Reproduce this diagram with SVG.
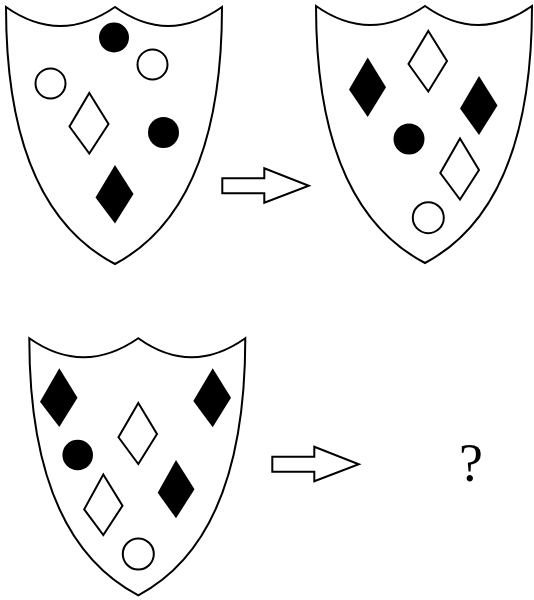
<svg xmlns="http://www.w3.org/2000/svg" width="534" height="600" viewBox="0 0 534 600">
<style>
.sh{fill:#fff;stroke:#000;stroke-width:2;stroke-linejoin:miter}
.o{fill:#fff;stroke:#000;stroke-width:2}
.f{fill:#000}
.ar{fill:#fff;stroke:#000;stroke-width:2}
.q{font-family:"Liberation Serif",serif;font-size:54px;fill:#000}
</style>
<defs>
<path id="shield" d="M0,0 Q54,38 109,0 Q162,38 216,0 Q216,200 109,257 Q0,200 0,0 Z"/>
<path id="arrow" d="M0,-7.5 H42 V-17.5 L86.5,0 L42,17 V7.5 H0 Z"/>
</defs>
<g id="shield1">
<use href="#shield" class="sh" transform="translate(6,7)"/>
<circle class="f" cx="114" cy="37.5" r="15"/>
<circle class="o" cx="152.5" cy="64.5" r="15"/>
<circle class="o" cx="50.5" cy="83.5" r="15"/>
<polygon class="o" points="89.3,93 108.5,124 89.3,153.5 69.5,126.5"/>
<circle class="f" cx="163.5" cy="132.5" r="15.5"/>
<polygon class="f" points="115,165 133.5,194 115,223.5 95.5,197.5"/>
</g>
<g id="shield2">
<use href="#shield" class="sh" transform="translate(316,6)"/>
<polygon class="o" points="428.3,31 447,61 428.3,91.5 408.5,64"/>
<polygon class="f" points="367.7,57.5 386,87.3 367.7,117 349,89.5"/>
<polygon class="f" points="479,76 497.5,105.5 479,135 460,108.5"/>
<circle class="f" cx="409" cy="139" r="15.5"/>
<polygon class="o" points="460,138.5 479,170 460,199.5 440.3,173"/>
<circle class="o" cx="428.3" cy="217.7" r="15.5"/>
</g>
<g id="shield3">
<use href="#shield" class="sh" transform="translate(29.3,338.3)"/>
<polygon class="f" points="59.3,368.3 77.5,397.7 59.3,427 40,401.7"/>
<polygon class="f" points="212.7,368.3 231,397.7 212.7,427.3 193.3,401"/>
<polygon class="o" points="138.3,403 157,434 138.3,464 118.5,437.3"/>
<circle class="f" cx="77.7" cy="455" r="15.3"/>
<polygon class="o" points="103.3,474.5 122.5,505.7 103.3,535 84.2,509.3"/>
<polygon class="f" points="176,460 194.5,489.3 176,518.3 157.7,492.7"/>
<circle class="o" cx="138.3" cy="554" r="15.5"/>
</g>
<g id="connectors">
<use href="#arrow" class="ar" transform="translate(222.3,185.8)"/>
<use href="#arrow" class="ar" transform="translate(272.3,464.2)"/>
</g>
<g id="question">
<text class="q" x="471" y="481" text-anchor="middle">?</text>
</g>
</svg>
